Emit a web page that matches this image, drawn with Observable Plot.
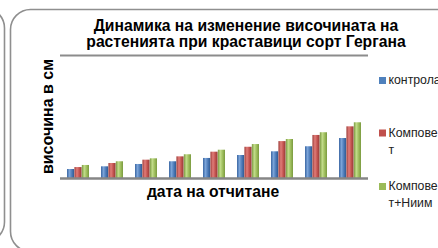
<!DOCTYPE html>
<html><head><meta charset="utf-8">
<script src="https://cdn.jsdelivr.net/npm/d3@7"></script>
<script src="https://cdn.jsdelivr.net/npm/@observablehq/plot@0.6"></script>
<style>
body{margin:0;background:#fff}
#wrap{position:relative;width:438px;height:248px;overflow:hidden;background:#fff;font-family:"Liberation Sans",Arial,sans-serif}
#wrap svg{position:absolute;left:0;top:0}
</style></head>
<body><div id="wrap"></div>
<script>
const dates = ["t1","t2","t3","t4","t5","t6","t7","t8","t9"];
const seriesNames = ["контрола", "Компове|т", "Компове|т+Ниим"];
const control = [7.3, 9.5, 11.4, 13.6, 16.3, 18.7, 21.7, 25.8, 32.5];
const compost = [8.9, 12.2, 14.9, 17.6, 21.4, 25.4, 30.0, 35.0, 42.0];
const compostNeem = [10.6, 13.6, 16.0, 19.3, 23.0, 27.6, 31.7, 37.2, 45.3];
const title1 = "Динамика на изменение височината на";
const title2 = "растенията при краставици сорт Гергана";
const xLabel = "дата на отчитане";
const yLabel = "височина в см";

const W = 438, H = 248, mL = 60, mR = 70, mT = 55, mB = 70;
const pIn = 0.35, pOut = 0.175;
const step = (W - mL - mR) / (dates.length - pIn + 2 * pOut);
const bw = step * (1 - pIn), bar = bw / 3;

const rows = s => dates.map((d, i) => ({date: d, value: s[i]}));
const wrap = document.getElementById("wrap");

// background frames
const bg = d3.create("svg").attr("width", W).attr("height", H);
bg.append("rect").attr("x", -400).attr("y", 8).attr("width", 404.5).attr("height", 234).attr("rx", 20)
  .attr("fill", "none").attr("stroke", "#8f8f8f").attr("stroke-width", 1.6);
bg.append("rect").attr("x", 10.5).attr("y", 9.5).attr("width", 480).attr("height", 242).attr("rx", 20)
  .attr("fill", "none").attr("stroke", "#8f8f8f").attr("stroke-width", 1.6);
wrap.appendChild(bg.node());

const chart = Plot.plot({
  width: W, height: H,
  marginLeft: mL, marginRight: mR, marginTop: mT, marginBottom: mB,
  style: {background: "transparent"},
  x: {domain: dates, paddingInner: pIn, paddingOuter: pOut, axis: null},
  y: {domain: [0, 100], axis: null},
  marks: [
    Plot.ruleY([100], {stroke: "#8c8c8c", strokeWidth: 2}),
    Plot.barY(rows(control), {x: "date", y: "value", fill: "url(#gBlue)", insetRight: 2 * bar}),
    Plot.barY(rows(compost), {x: "date", y: "value", fill: "url(#gRed)", insetLeft: bar, insetRight: bar}),
    Plot.barY(rows(compostNeem), {x: "date", y: "value", fill: "url(#gGreen)", insetLeft: 2 * bar}),
    Plot.ruleY([0], {stroke: "#868686", strokeWidth: 2.5})
  ]
});
const defs = d3.select(chart).insert("defs", ":first-child");
const grads = {gBlue: ["#3b67a3", "#7aa3d8", "#4a78b5", "#2f5a92"],
               gRed: ["#9e3b38", "#e07d79", "#c0504d", "#923a37"],
               gGreen: ["#7a9a40", "#c2dc8a", "#9bbb59", "#7a9a40"]};
for (const [id, c] of Object.entries(grads)) {
  const g = defs.append("linearGradient").attr("id", id).attr("x1", 0).attr("x2", 1).attr("y1", 0).attr("y2", 0);
  [[0, c[0]], [0.35, c[1]], [0.7, c[2]], [1, c[3]]].forEach(([o, col]) =>
    g.append("stop").attr("offset", o).attr("stop-color", col));
}
wrap.appendChild(chart);

// texts
const tx = d3.create("svg").attr("width", W).attr("height", H)
  .style("font-family", '"Liberation Sans", Arial, sans-serif');
tx.append("text").attr("x", 246).attr("y", 30.5).attr("text-anchor", "middle")
  .attr("font-size", 15.7).attr("font-weight", "bold").text(title1);
tx.append("text").attr("x", 246).attr("y", 46.5).attr("text-anchor", "middle")
  .attr("font-size", 15.7).attr("font-weight", "bold").text(title2);
tx.append("text").attr("x", 213).attr("y", 197).attr("text-anchor", "middle")
  .attr("font-size", 15.7).attr("font-weight", "bold").text(xLabel);
tx.append("text").attr("transform", "translate(53,116.5) rotate(-90)").attr("text-anchor", "middle")
  .attr("font-size", 16).attr("font-weight", "bold").text(yLabel);
const legCols = ["#4f81bd", "#c0504d", "#9bbb59"];
const legY = [84, 136.5, 190];
seriesNames.forEach((n, i) => {
  tx.append("rect").attr("x", 379).attr("y", legY[i] - 7).attr("width", 7).attr("height", 7).attr("fill", legCols[i]);
  n.split("|").forEach((part, j) => {
    tx.append("text").attr("x", 388.5).attr("y", legY[i] + j * 17).attr("font-size", 12.3).attr("fill", "#222").text(part);
  });
});
wrap.appendChild(tx.node());
</script></body></html>
